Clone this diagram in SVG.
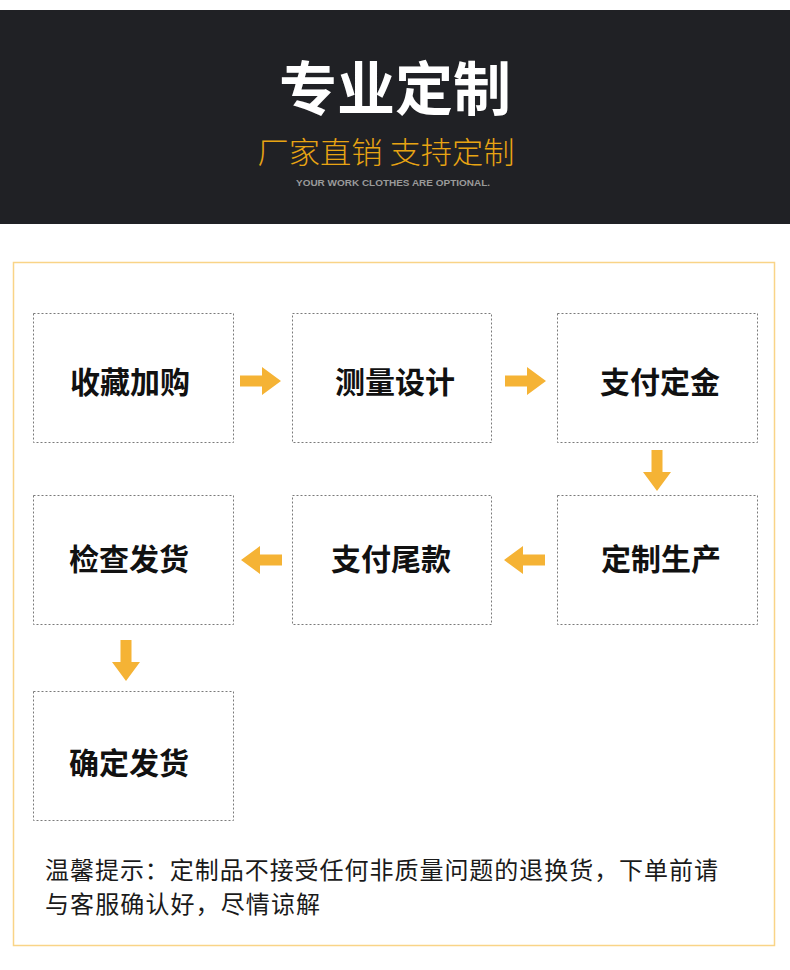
<svg xmlns="http://www.w3.org/2000/svg" width="790" height="970" viewBox="0 0 790 970">
<style>
.cjk{font-family:"Noto Sans CJK SC","Noto Sans",sans-serif}
.box rect{fill:#fff;stroke:#7a7a7a;stroke-width:1;stroke-dasharray:2 2}
.box text{font-family:"Noto Sans CJK SC",sans-serif;font-weight:700;font-size:30px;fill:#111;text-anchor:middle}
.arr{fill:#f5b335}
.note{font-family:"Noto Sans CJK SC",sans-serif;font-size:24px;fill:#1a1a1a}
</style>
<defs>
<path id="ar" d="M0,-5.5 H22 V-14 L41,0 L22,14 V5.5 H0 Z"/>
</defs>
<rect width="790" height="970" fill="#fff"/>
<g id="header">
<rect x="0" y="10" width="790" height="214" fill="#202125"/>
<text x="395" y="110" text-anchor="middle" class="cjk" font-size="58" font-weight="700" fill="#fff">专业定制</text>
<text x="386" y="163" text-anchor="middle" class="cjk" font-size="30" font-weight="300" fill="#e8a413" textLength="257" lengthAdjust="spacingAndGlyphs">厂家直销 支持定制</text>
<text x="393" y="186" text-anchor="middle" font-family="Liberation Sans,Arial,sans-serif" font-size="9" font-weight="700" fill="#9a9a9a" textLength="194" lengthAdjust="spacingAndGlyphs">YOUR WORK CLOTHES ARE OPTIONAL.</text>
</g>
<rect id="frame" x="13.5" y="262.5" width="761" height="683" fill="none" stroke="#f9d487" stroke-width="1.5"/>
<g id="n1" class="box"><rect x="33.5" y="313.5" width="200" height="129"/><text x="130" y="393">收藏加购</text></g>
<g id="n2" class="box"><rect x="292.5" y="313.5" width="199" height="129"/><text x="395" y="393">测量设计</text></g>
<g id="n3" class="box"><rect x="557.5" y="313.5" width="200" height="129"/><text x="660" y="393">支付定金</text></g>
<g id="n4" class="box"><rect x="557.5" y="495.5" width="200" height="129"/><text x="661" y="570">定制生产</text></g>
<g id="n5" class="box"><rect x="292.5" y="495.5" width="199" height="129"/><text x="391" y="570">支付尾款</text></g>
<g id="n6" class="box"><rect x="33.5" y="495.5" width="200" height="129"/><text x="129" y="570">检查发货</text></g>
<g id="n7" class="box"><rect x="33.5" y="691.5" width="200" height="129"/><text x="129" y="774">确定发货</text></g>
<g id="connectors" class="arr">
<use href="#ar" transform="translate(240,381)"/>
<use href="#ar" transform="translate(505,381)"/>
<use href="#ar" transform="translate(657,450) rotate(90)"/>
<use href="#ar" transform="translate(545,560) rotate(180)"/>
<use href="#ar" transform="translate(282,560) rotate(180)"/>
<use href="#ar" transform="translate(126,640) rotate(90)"/>
</g>
<g id="notice">
<text class="note" x="45" y="879" textLength="673" lengthAdjust="spacing">温馨提示：定制品不接受任何非质量问题的退换货，下单前请</text>
<text class="note" x="45" y="913" textLength="275" lengthAdjust="spacing">与客服确认好，尽情谅解</text>
</g>
</svg>
